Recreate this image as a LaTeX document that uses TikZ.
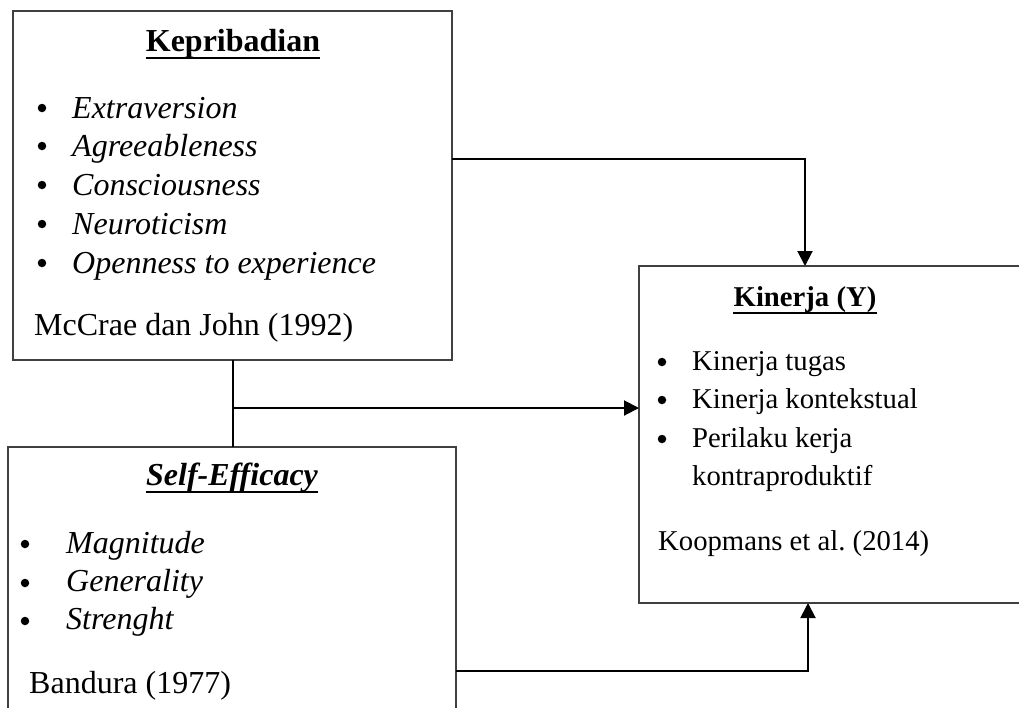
\documentclass[tikz,border=0pt]{standalone}
\usepackage{fontspec}
\setmainfont{Liberation Serif}
\usetikzlibrary{arrows.meta}
\begin{document}
\begin{tikzpicture}[x=1pt,y=-1pt,
  box/.style={draw=black!75, line width=1.3pt, inner sep=0pt, outer sep=0pt},
  conn/.style={line width=2pt},
  arr/.style={conn, -{Triangle[length=15pt,width=15pt]}},
  L/.style={font=\fontsize{32}{38}\selectfont, inner sep=0pt, anchor=base west},
  R/.style={font=\fontsize{28.7}{38}\selectfont, inner sep=0pt, anchor=base west},
  LT/.style={font=\fontsize{32}{38}\selectfont\bfseries, inner sep=0pt, anchor=base},
  RT/.style={font=\fontsize{28.7}{38}\selectfont\bfseries, inner sep=0pt, anchor=base},
  ul/.style={line width=2pt},
  dot/.style={circle, fill, inner sep=0pt, minimum size=8.5pt}]
\useasboundingbox (0,0) rectangle (1019,707);
\clip (0,0) rectangle (1019,707);
% boxes
\node[box, minimum width=439pt, minimum height=349pt, anchor=north west] (kep) at (13,11) {};
\node[box, minimum width=448pt, minimum height=320pt, anchor=north west] (se) at (8,447) {};
\node[box, minimum width=420pt, minimum height=337pt, anchor=north west] (kin) at (639,266) {};
% Kepribadian
\node[LT] (kt) at (233,51) {Kepribadian};
\draw[ul] ([yshift=-7pt]kt.base west) -- ([yshift=-7pt]kt.base east);
\node[dot] (kb1) at (42,108) {};
\node[dot] (kb2) at (42,146) {};
\node[dot] (kb3) at (42,185) {};
\node[dot] (kb4) at (42,224) {};
\node[dot] (kb5) at (42,263) {};
\node[L] (k1) at (72,118) {\itshape Extraversion};
\node[L] (k2) at (72,156) {\itshape Agreeableness};
\node[L] (k3) at (72,195) {\itshape Consciousness};
\node[L] (k4) at (72,234) {\itshape Neuroticism};
\node[L] (k5) at (72,273) {\itshape Openness to experience};
\node[L] (kr) at (34,335) {McCrae dan John (1992)};
% Self-Efficacy
\node[LT] (st) at (232,485) {\itshape Self-Efficacy};
\draw[ul] ([yshift=-7pt]st.base west) -- ([yshift=-7pt]st.base east);
\node[dot] (sb1) at (25,544) {};
\node[dot] (sb2) at (25,583) {};
\node[dot] (sb3) at (25,621) {};
\node[L] (s1) at (66,553) {\itshape Magnitude};
\node[L] (s2) at (66,591) {\itshape Generality};
\node[L] (s3) at (66,629) {\itshape Strenght};
\node[L] (sr) at (29,693) {Bandura (1977)};
% Kinerja
\node[RT] (yt) at (805,306) {Kinerja (Y)};
\draw[ul] ([yshift=-7pt]yt.base west) -- ([yshift=-7pt]yt.base east);
\node[dot] (yb1) at (662,362) {};
\node[dot] (yb2) at (662,400) {};
\node[dot] (yb3) at (662,439) {};
\node[R] (y1) at (692,370) {Kinerja tugas};
\node[R] (y2) at (692,408) {Kinerja kontekstual};
\node[R] (y3) at (692,447) {Perilaku kerja};
\node[R] (y4) at (692,485) {kontraproduktif};
\node[R] (yr) at (658,550) {Koopmans et al.\ (2014)};
% connectors
\draw[conn] (kep.south) -- (kep.south |- se.north);
\coordinate (m) at (233,408);
\draw[arr] (m) -- (m -| kin.west);
\coordinate (t) at (805,159);
\draw[arr] (t -| kep.east) -- (t) -- (t |- kin.north);
\coordinate (b) at (808,671);
\draw[arr] (b -| se.east) -- (b) -- (b |- kin.south);
\end{tikzpicture}
\end{document}
